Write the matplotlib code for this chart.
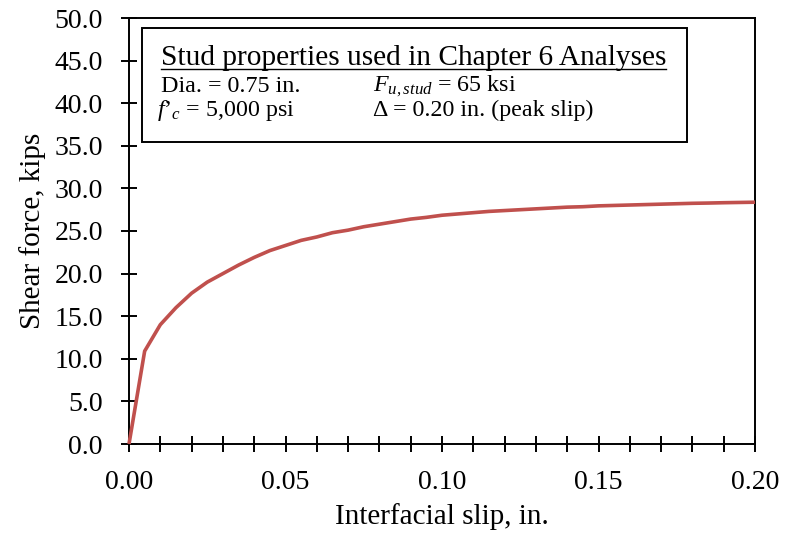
import matplotlib
matplotlib.use("Agg")
import matplotlib.pyplot as plt
from matplotlib.ticker import MultipleLocator, FormatStrFormatter
from matplotlib.lines import Line2D

slip = [0.0, 0.005, 0.01, 0.015, 0.02, 0.025, 0.03, 0.035, 0.04, 0.045, 0.05,
        0.055, 0.06, 0.065, 0.07, 0.075, 0.08, 0.085, 0.09, 0.095, 0.10,
        0.105, 0.11, 0.115, 0.12, 0.125, 0.13, 0.135, 0.14, 0.145, 0.15,
        0.155, 0.16, 0.165, 0.17, 0.175, 0.18, 0.185, 0.19, 0.195, 0.20]
force = [0.0, 10.9, 14.0, 16.0, 17.7, 19.0, 20.0, 21.0, 21.9, 22.7, 23.3,
         23.9, 24.3, 24.8, 25.1, 25.5, 25.8, 26.1, 26.4, 26.6, 26.85,
         27.0, 27.15, 27.3, 27.4, 27.5, 27.6, 27.7, 27.8, 27.85, 27.95,
         28.0, 28.05, 28.1, 28.15, 28.2, 28.25, 28.28, 28.32, 28.35, 28.38]

title_txt = "Stud properties used in Chapter 6 Analyses"
row1 = ["Dia. = 0.75 in.", r"$F_{u,stud}$ = 65 ksi"]
row2 = ["$f$\u2019$_c$ = 5,000 psi", "\u0394 = 0.20 in. (peak slip)"]

plt.rcParams['font.family'] = ['Liberation Serif', 'DejaVu Serif']
plt.rcParams['mathtext.fontset'] = 'custom'
plt.rcParams['mathtext.rm'] = 'Liberation Serif'
plt.rcParams['mathtext.it'] = 'Liberation Serif:italic'
plt.rcParams['mathtext.bf'] = 'Liberation Serif:bold'

fig = plt.figure(figsize=(7.85, 5.40), dpi=100)
ax = fig.add_axes([129/785, 1-444/540, (755-129)/785, (444-18)/540])

ax.plot(slip, force, color='#C0504D', lw=2.6, solid_capstyle='butt', clip_on=False, zorder=3)

ax.set_xlim(0, 0.20)
ax.set_ylim(0, 50)
ax.xaxis.set_major_locator(MultipleLocator(0.05))
ax.xaxis.set_minor_locator(MultipleLocator(0.01))
ax.yaxis.set_major_locator(MultipleLocator(5))
ax.xaxis.set_major_formatter(FormatStrFormatter('%.2f'))
ax.yaxis.set_major_formatter(FormatStrFormatter('%.1f'))
ax.tick_params(axis='both', which='both', direction='inout', length=11.5, width=1.4,
               labelsize=20, colors='black', pad=13)
ax.tick_params(axis='both', which='both', top=False, right=False)
for s in ax.spines.values():
    s.set_linewidth(1.4)

ax.set_xlabel("Interfacial slip, in.", fontsize=21, labelpad=6)
ax.set_ylabel("Shear force, kips", fontsize=21, labelpad=6)

def fx(px):
    return px / 785
def fy(py):
    return 1 - py / 540

box = plt.Rectangle((fx(142), fy(142)), fx(687) - fx(142), fy(28) - fy(142),
                    transform=fig.transFigure, fill=True, facecolor='white',
                    edgecolor='black', lw=1.4, zorder=5)
fig.patches.append(box)

t = fig.text(fx(161), fy(65.5), title_txt, fontsize=21.2, ha='left', va='baseline', zorder=6)
fig.text(fx(161), fy(91.5), row1[0], fontsize=17.3, ha='left', va='baseline', zorder=6)
fig.text(fx(373), fy(91.5), row1[1], fontsize=17.3, ha='left', va='baseline', zorder=6)
fig.text(fx(157), fy(116), row2[0], fontsize=17.3, ha='left', va='baseline', zorder=6)
fig.text(fx(373), fy(116), row2[1], fontsize=17.3, ha='left', va='baseline', zorder=6)

renderer = fig.canvas.get_renderer()
bb = t.get_window_extent(renderer=renderer)
x0, x1 = bb.x0 / fig.bbox.width, bb.x1 / fig.bbox.width
fig.add_artist(Line2D([x0, x1], [fy(68.5), fy(68.5)], transform=fig.transFigure,
                      color='black', lw=1.0, zorder=6))

fig.savefig("out.png", dpi=100)
